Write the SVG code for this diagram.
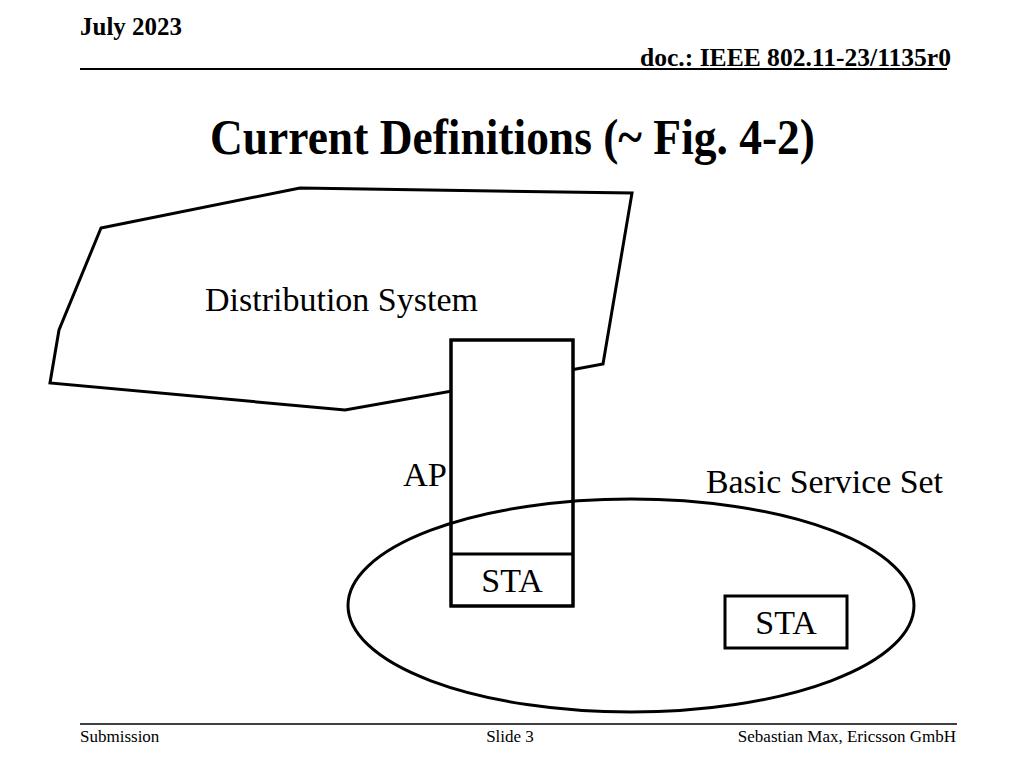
<svg xmlns="http://www.w3.org/2000/svg" width="1024" height="768" viewBox="0 0 1024 768">
<style>
text{font-family:'Liberation Serif','Times New Roman','DejaVu Serif',serif;fill:#000}
.b{font-weight:bold}
.s{fill:#fff;stroke:#000;stroke-width:3}
.o{fill:none;stroke:#000;stroke-width:3}
.l{font-size:34px}
.f{font-size:17px}
</style>
<rect width="1024" height="768" fill="#fff"/>
<g id="header">
<text class="b" x="80" y="35" font-size="25" textLength="102" lengthAdjust="spacingAndGlyphs">July 2023</text>
<text class="b" x="640" y="66" font-size="26" textLength="311" lengthAdjust="spacingAndGlyphs">doc.: IEEE 802.11-23/1135r0</text>
<line x1="80" y1="69" x2="947" y2="69" stroke="#000" stroke-width="2"/>
</g>
<text class="b" x="210" y="154" font-size="50" textLength="605" lengthAdjust="spacingAndGlyphs">Current Definitions (~ Fig. 4-2)</text>
<g id="ds">
<polygon class="s" points="101,228 300,188 632,193 603,364 560,372 345,410 50,383 59,330"/>
<text x="205" y="311" font-size="33" textLength="273" lengthAdjust="spacingAndGlyphs">Distribution System</text>
</g>
<g id="ap">
<rect class="s" x="451" y="340" width="122" height="266"/>
</g>
<g id="bss">
<ellipse class="o" cx="631" cy="605.5" rx="283" ry="106.5"/>
<text class="l" x="706" y="493" textLength="237" lengthAdjust="spacingAndGlyphs">Basic Service Set</text>
</g>
<g id="ap-sta">
<rect class="o" x="451" y="340" width="122" height="266"/>
<line x1="451" y1="554" x2="573" y2="554" stroke="#000" stroke-width="3"/>
<text class="l" x="512" y="592" text-anchor="middle">STA</text>
<text class="l" x="403" y="486" textLength="44" lengthAdjust="spacingAndGlyphs">AP</text>
</g>
<g id="sta2">
<rect class="s" x="725" y="596" width="122" height="52"/>
<text class="l" x="786" y="634" text-anchor="middle">STA</text>
</g>
<g id="footer">
<line x1="80" y1="724" x2="957" y2="724" stroke="#000" stroke-width="1.5"/>
<text class="f" x="80" y="742">Submission</text>
<text class="f" x="510" y="742" text-anchor="middle">Slide 3</text>
<text class="f" x="956" y="742" text-anchor="end">Sebastian Max, Ericsson GmbH</text>
</g>
</svg>
